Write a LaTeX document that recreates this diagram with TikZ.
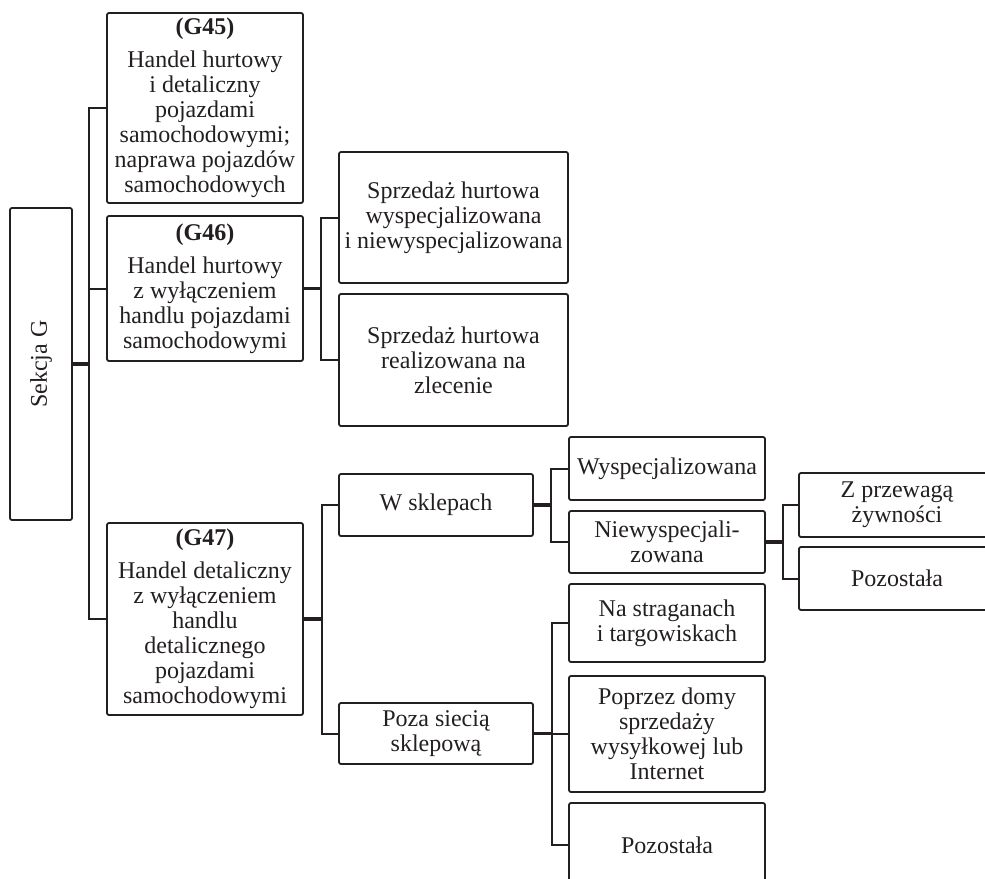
\documentclass[tikz,border=0pt]{standalone}
\usepackage{fontspec}
\setmainfont{Liberation Serif}
\usepackage{graphicx}
\usepackage{tikz}
\usetikzlibrary{positioning}
\definecolor{RichBlack}{HTML}{231F20}
\newcommand{\treefont}{\fontsize{12}{12.5}\selectfont}
\tikzset{%
  tree_block/.style={%
    rectangle,%
    draw=RichBlack,%
    rounded corners=1pt,%
    line width=0.9pt,%
    inner sep=1pt,%
    text=RichBlack,%
    font={\treefont},%
    align=center%
  },
  tree_path/.style={%
    color=RichBlack,%
    line width=1pt,%
    line join=miter,%
  },
  tree_stub/.style={%
    color=RichBlack,%
    line width=1.7pt,%
  },
}

\begin{document}
\begin{tikzpicture}[x=0.5pt, y=-0.5pt]
  \useasboundingbox (0,0) rectangle (985,878);
  \clip (0,0) rectangle (985,878);

  \node [tree_block, minimum width=31pt, minimum height=156pt] (Sekcja) at (41,364) {\rotatebox{90}{Sekcja G}};

  \node [tree_block, minimum width=98pt, minimum height=95pt] (G45) at (205,108)
    {\textbf{(G45)}\\[4pt]Handel hurtowy\\i detaliczny\\pojazdami\\samochodowymi;\\naprawa pojazdów\\samochodowych};
  \node [tree_block, minimum width=98pt, minimum height=72.5pt] (G46) at (205,288.5)
    {\textbf{(G46)}\\[4pt]Handel hurtowy\\z wyłączeniem\\handlu pojazdami\\samochodowymi};
  \node [tree_block, minimum width=98pt, minimum height=96pt] (G47) at (205,619)
    {\textbf{(G47)}\\[4pt]Handel detaliczny\\z wyłączeniem\\handlu\\detalicznego\\pojazdami\\samochodowymi};

  \node [tree_block, minimum width=114.5pt, minimum height=65.5pt] (Hurt1) at (453.5,217.5)
    {Sprzedaż hurtowa\\wyspecjalizowana\\i niewyspecjalizowana};
  \node [tree_block, minimum width=114.5pt, minimum height=66pt] (Hurt2) at (453.5,360)
    {Sprzedaż hurtowa\\realizowana na\\zlecenie};

  \node [tree_block, minimum width=97pt, minimum height=31pt] (Sklepy) at (436,505) {W sklepach};
  \node [tree_block, minimum width=97pt, minimum height=30.5pt] (Poza) at (436,733.5) {Poza siecią\\sklepową};

  \node [tree_block, minimum width=98pt, minimum height=31.5pt] (Wysp) at (667,468.5) {Wyspecjalizowana};
  \node [tree_block, minimum width=98pt, minimum height=31pt] (Niewysp) at (667,542) {Niewyspecjali-\\zowana};

  \node [tree_block, minimum width=98pt, minimum height=39pt] (Stragany) at (667,623) {Na straganach\\i targowiskach};
  \node [tree_block, minimum width=98pt, minimum height=58pt] (Domy) at (667,734) {Poprzez domy\\sprzedaży\\wysyłkowej lub\\Internet};
  \node [tree_block, minimum width=98pt, minimum height=42pt] (Pozostala2) at (667,845) {Pozostała};

  \node [tree_block, minimum width=98pt, minimum height=32pt] (Przewaga) at (897,505) {Z przewagą\\żywności};
  \node [tree_block, minimum width=98pt, minimum height=31.5pt] (Pozostala1) at (897,578.5) {Pozostała};

  \coordinate (JoinG) at (89,0);
  \coordinate (JoinHurt) at (321,0);
  \coordinate (JoinDet) at (322,0);
  \coordinate (JoinSklep) at (551,0);
  \coordinate (JoinPoza) at (552,0);
  \coordinate (JoinNiew) at (783,0);

  \draw [tree_stub]
    (Sekcja.east) -- (Sekcja.east -| JoinG);
  \draw [tree_path]
    (G45.west)
    -|
    (JoinG |- G47.west)
    --
    (G47.west);
  \draw [tree_path]
    (JoinG |- G46.west) -- (G46.west);

  \draw [tree_stub]
    (G46.east) -- (G46.east -| JoinHurt);
  \draw [tree_path]
    (Hurt1.west)
    -|
    (JoinHurt |- Hurt2.west)
    --
    (Hurt2.west);

  \draw [tree_stub]
    (G47.east) -- (G47.east -| JoinDet);
  \draw [tree_path]
    (Sklepy.west)
    -|
    (JoinDet |- Poza.west)
    --
    (Poza.west);

  \draw [tree_stub]
    (Sklepy.east) -- (Sklepy.east -| JoinSklep);
  \draw [tree_path]
    (Wysp.west)
    -|
    (JoinSklep |- Niewysp.west)
    --
    (Niewysp.west);

  \draw [tree_stub]
    (Poza.east) -- (Poza.east -| JoinPoza);
  \draw [tree_path]
    (Stragany.west)
    -|
    (JoinPoza |- Pozostala2.west)
    --
    (Pozostala2.west);
  \draw [tree_path]
    (JoinPoza |- Domy.west) -- (Domy.west);

  \draw [tree_stub]
    (Niewysp.east) -- (Niewysp.east -| JoinNiew);
  \draw [tree_path]
    (Przewaga.west)
    -|
    (JoinNiew |- Pozostala1.west)
    --
    (Pozostala1.west);
\end{tikzpicture}
\end{document}
